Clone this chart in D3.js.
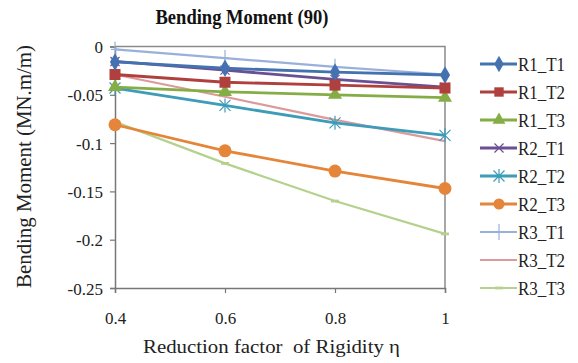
<!DOCTYPE html>
<html><head><meta charset="utf-8">
<script src="https://cdn.jsdelivr.net/npm/d3@7"></script>
<style>body{margin:0;background:#fff}svg{display:block}</style>
</head><body><svg id="c" width="578" height="363"></svg>
<script>
const xValues = [0.4, 0.6, 0.8, 1];
const seriesNames = ["R1_T1","R1_T2","R1_T3","R2_T1","R2_T2","R2_T3","R3_T1","R3_T2","R3_T3"];
const R1_T1 = [-0.016, -0.0225, -0.0265, -0.0295];
const R1_T2 = [-0.029, -0.037, -0.040, -0.043];
const R1_T3 = [-0.042, -0.047, -0.050, -0.053];
const R2_T1 = [-0.0155, -0.0245, -0.034, -0.042];
const R2_T2 = [-0.043, -0.061, -0.079, -0.092];
const R2_T3 = [-0.081, -0.108, -0.129, -0.147];
const R3_T1 = [-0.003, -0.012, -0.021, -0.029];
const R3_T2 = [-0.029, -0.052, -0.076, -0.098];
const R3_T3 = [-0.078, -0.121, -0.160, -0.194];
const seriesValues = [R1_T1,R1_T2,R1_T3,R2_T1,R2_T2,R2_T3,R3_T1,R3_T2,R3_T3];
const yTicks = [0, -0.05, -0.1, -0.15, -0.2, -0.25];
const xTicks = [0.4, 0.6, 0.8, 1];
const colors = ["#4472b0","#b0403d","#85ad45","#6a4f93","#3d9cb8","#e5853a","#98b0da","#dc9a9a","#b5d18d"];
const markers = ["diamond","square","triangle","x","asterisk","circle","plus","none","dash"];
const widths = [2.8,2.8,2.8,2.8,2.8,2.8,2.2,2.2,2.2];
const FONT = "'Liberation Serif','Times New Roman',serif";

const svg = d3.select("#c");
const x = d3.scaleLinear().domain([0.4,1]).range([115,445]);
const y = d3.scaleLinear().domain([-0.25,0]).range([288,46.5]);

// plot border
svg.append("path").attr("d",`M${x(0.4)},${y(0)}H${x(1)}V${y(-0.25)}`).attr("fill","none").attr("stroke","#8a8a8a").attr("stroke-width",1.5);

const yAxis = svg.append("g").attr("transform",`translate(${x(0.4)},0)`)
  .call(d3.axisLeft(y).tickValues(yTicks).tickFormat(d=>d===0?"0":String(d)).tickSize(5).tickPadding(7));
const xAxis = svg.append("g").attr("transform",`translate(0,${y(-0.25)})`)
  .call(d3.axisBottom(x).tickValues(xTicks).tickFormat(d=>String(d)).tickSize(5).tickPadding(19));
[yAxis,xAxis].forEach(g=>{
  g.attr("font-family",FONT).attr("font-size",17);
  g.select(".domain").attr("stroke","#777").attr("stroke-width",1.5);
  g.selectAll(".tick line").attr("stroke","#777").attr("stroke-width",1.2);
  g.selectAll(".tick text").attr("fill","#222");
});
yAxis.selectAll(".tick text").attr("dy","0.36em");

const line = d3.line().x((d,i)=>x(xValues[i])).y(d=>y(d));

function drawMarker(g, type, cx, cy, color, small){
  const s = small ? 0.85 : 1;
  if(type==="diamond") g.append("path").attr("d",d3.symbol(d3.symbolDiamond,90*s)()).attr("transform",`translate(${cx},${cy})`).attr("fill",color);
  else if(type==="square") g.append("rect").attr("x",cx-5.5*s).attr("y",cy-5.5*s).attr("width",11*s).attr("height",11*s).attr("fill",color);
  else if(type==="triangle") g.append("path").attr("d",d3.symbol(d3.symbolTriangle,85*s)()).attr("transform",`translate(${cx},${cy})`).attr("fill",color);
  else if(type==="circle") g.append("circle").attr("cx",cx).attr("cy",cy).attr("r",6.5*s).attr("fill",color);
  else if(type==="x") g.append("path").attr("d",`M${cx-4.5},${cy-4.5}L${cx+4.5},${cy+4.5}M${cx-4.5},${cy+4.5}L${cx+4.5},${cy-4.5}`).attr("stroke",color).attr("stroke-width",1.2);
  else if(type==="asterisk") g.append("path").attr("d",`M${cx-5.5},${cy-5.5}L${cx+5.5},${cy+5.5}M${cx-5.5},${cy+5.5}L${cx+5.5},${cy-5.5}M${cx},${cy-7}V${cy+7}`).attr("stroke",color).attr("stroke-width",1.2);
  else if(type==="plus") g.append("path").attr("d",`M${cx},${cy-8}V${cy+8}M${cx-4},${cy}H${cx+4}`).attr("stroke",color).attr("stroke-width",1.2);
  else if(type==="dash") g.append("path").attr("d",`M${cx-4},${cy}H${cx+4}`).attr("stroke",color).attr("stroke-width",2.8);
}

const order = [8,7,6,5,4,3,2,1,0];
order.forEach(i=>{
  const g = svg.append("g");
  g.append("path").datum(seriesValues[i]).attr("d",line).attr("fill","none").attr("stroke",colors[i]).attr("stroke-width",widths[i]);
  seriesValues[i].forEach((v,j)=>drawMarker(g, markers[i], x(xValues[j]), y(v), colors[i]));
});

// legend
const leg = svg.append("g");
seriesNames.forEach((n,i)=>{
  const ly = 64 + i*28;
  leg.append("line").attr("x1",480).attr("x2",517).attr("y1",ly).attr("y2",ly).attr("stroke",colors[i]).attr("stroke-width",widths[i]);
  drawMarker(leg, markers[i], 499, ly, colors[i], true);
  leg.append("text").attr("x",518).attr("y",ly+7).attr("font-family",FONT).attr("font-size",18.5)
    .attr("textLength",47).attr("lengthAdjust","spacingAndGlyphs").attr("fill","#222").text(n);
});

// titles
svg.append("text").attr("x",242).attr("y",24).attr("text-anchor","middle").attr("font-family",FONT).attr("font-size",20).attr("font-weight","bold")
  .attr("textLength",173).attr("lengthAdjust","spacingAndGlyphs").attr("fill","#111").text("Bending Moment (90)");
svg.append("text").attr("transform","translate(31,166.5) rotate(-90)").attr("text-anchor","middle").attr("font-family",FONT).attr("font-size",20)
  .attr("textLength",243).attr("lengthAdjust","spacingAndGlyphs").attr("fill","#222").text("Bending Moment (MN.m/m)");
svg.append("text").attr("x",271.5).attr("y",353).attr("text-anchor","middle").attr("font-family",FONT).attr("font-size",18.5)
  .attr("textLength",257).attr("lengthAdjust","spacingAndGlyphs").attr("fill","#222").style("white-space","pre").text("Reduction factor  of Rigidity η");
</script></body></html>
